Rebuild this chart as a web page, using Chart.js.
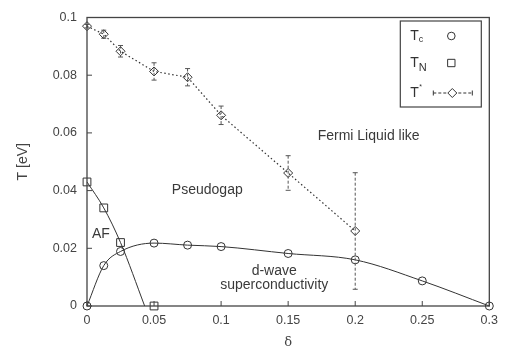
<!DOCTYPE html>
<html>
<head>
<meta charset="utf-8">
<script src="https://cdn.jsdelivr.net/npm/chart.js@4/dist/chart.umd.min.js"></script>
<style>
  html, body { margin: 0; padding: 0; background: #fff; }
  #wrap { width: 505px; height: 352px; }
</style>
</head>
<body>
<div id="wrap"><canvas id="phase"></canvas></div>
<script>
const dopingTicks = [0, 0.05, 0.1, 0.15, 0.2, 0.25, 0.3];
const dopingTickLabels = ["0", "0.05", "0.1", "0.15", "0.2", "0.25", "0.3"];
const tempTicks = [0, 0.02, 0.04, 0.06, 0.08, 0.1];
const tempTickLabels = ["0", "0.02", "0.04", "0.06", "0.08", "0.1"];

// superconducting Tc
const tcDoping = [0, 0.0125, 0.025, 0.05, 0.075, 0.1, 0.15, 0.2, 0.25, 0.3];
const tcValues = [0, 0.014, 0.0189, 0.0218, 0.0211, 0.0206, 0.0182, 0.016, 0.0087, 0];

// Neel temperature
const tnDoping = [0, 0.0125, 0.025, 0.05];
const tnValues = [0.043, 0.034, 0.022, 0];
// guide line for TN, hits zero before the last square
const tnLineDoping = [0, 0.0125, 0.025, 0.043];
const tnLineValues = [0.043, 0.034, 0.022, 0];

// pseudogap T*
const tStarDoping = [0, 0.0125, 0.025, 0.05, 0.075, 0.1, 0.15, 0.2];
const tStarValues = [0.097, 0.0942, 0.0883, 0.0813, 0.0793, 0.0661, 0.0461, 0.026];
const tStarErrors = [0.0006, 0.0014, 0.002, 0.003, 0.003, 0.0032, 0.006, 0.0202];

// region names, placed in data coordinates
const regionLabels = ["Fermi Liquid like", "Pseudogap", "AF", "d-wave", "superconductivity"];
const regionX = [0.2100, 0.0897, 0.0104, 0.1396, 0.1396];
const regionY = [0.059, 0.0401, 0.025, 0.0121, 0.0071];

const ink = "#333";
const font = "'Liberation Sans', Arial, sans-serif";

const toPoints = (xs, ys) => xs.map((v, i) => ({ x: v, y: ys[i] }));

const phasePlot = {
  id: "phasePlot",
  afterDatasetsDraw(chart) {
    const { ctx, chartArea: a, scales: { x, y } } = chart;
    ctx.save();

    // error bars on T*
    ctx.strokeStyle = "#555";
    ctx.lineWidth = 1;
    tStarDoping.forEach((d, i) => {
      const px = x.getPixelForValue(d);
      const top = y.getPixelForValue(tStarValues[i] + tStarErrors[i]);
      const bot = y.getPixelForValue(tStarValues[i] - tStarErrors[i]);
      ctx.setLineDash([3, 2]);
      ctx.beginPath();
      ctx.moveTo(px, top);
      ctx.lineTo(px, bot);
      ctx.stroke();
      ctx.setLineDash([]);
      ctx.beginPath();
      ctx.moveTo(px - 2.5, top); ctx.lineTo(px + 2.5, top);
      ctx.moveTo(px - 2.5, bot); ctx.lineTo(px + 2.5, bot);
      ctx.stroke();
    });

    // frame
    ctx.strokeStyle = "#444";
    ctx.lineWidth = 1.3;
    ctx.strokeRect(a.left, a.top, a.width, a.height);

    // inward ticks
    ctx.lineWidth = 1;
    ctx.beginPath();
    tempTicks.forEach(v => {
      const py = y.getPixelForValue(v);
      ctx.moveTo(a.left, py); ctx.lineTo(a.left + 5, py);
    });
    dopingTicks.forEach(v => {
      const px = x.getPixelForValue(v);
      ctx.moveTo(px, a.bottom); ctx.lineTo(px, a.bottom - 5);
    });
    ctx.stroke();

    // region names
    ctx.fillStyle = "#3a3a3a";
    ctx.font = "14px " + font;
    ctx.textAlign = "center";
    ctx.textBaseline = "middle";
    regionLabels.forEach((t, i) => {
      ctx.fillText(t, x.getPixelForValue(regionX[i]), y.getPixelForValue(regionY[i]));
    });

    // legend box
    const bx = a.right - 89, by = a.top + 3.5, bw = 81, bh = 86;
    ctx.fillStyle = "#fff";
    ctx.fillRect(bx, by, bw, bh);
    ctx.strokeStyle = "#444";
    ctx.lineWidth = 1.2;
    ctx.strokeRect(bx, by, bw, bh);

    ctx.fillStyle = "#333";
    ctx.strokeStyle = ink;
    ctx.lineWidth = 1;
    ctx.textAlign = "left";
    const rows = [by + 15, by + 42, by + 72];
    const tx = bx + 10, sx = bx + 51;

    ctx.font = "14px " + font;
    ctx.fillText("T", tx, rows[0]);
    ctx.fillText("T", tx, rows[1]);
    ctx.fillText("T", tx, rows[2]);
    ctx.font = "9px " + font;
    ctx.fillText("c", tx + 8.5, rows[0] + 4);
    ctx.font = "11px " + font;
    ctx.fillText("N", tx + 8.5, rows[1] + 5);
    ctx.font = "7px " + font;
    ctx.fillText("*", tx + 9, rows[2] - 6);

    ctx.fillStyle = "#fff";
    Chart.helpers.drawPoint(ctx, { pointStyle: "circle", radius: 3.8, borderWidth: 1 }, sx, rows[0]);
    Chart.helpers.drawPoint(ctx, { pointStyle: "rect", radius: 5.2, borderWidth: 1 }, sx, rows[1]);

    // T* sample: dashed bar with caps and a diamond
    ctx.setLineDash([3, 2]);
    ctx.beginPath();
    ctx.moveTo(bx + 33, rows[2]); ctx.lineTo(bx + 72, rows[2]);
    ctx.stroke();
    ctx.setLineDash([]);
    ctx.beginPath();
    ctx.moveTo(bx + 33, rows[2] - 2.5); ctx.lineTo(bx + 33, rows[2] + 2.5);
    ctx.moveTo(bx + 72, rows[2] - 2.5); ctx.lineTo(bx + 72, rows[2] + 2.5);
    ctx.stroke();
    Chart.helpers.drawPoint(ctx, { pointStyle: "rectRot", radius: 4.5, borderWidth: 1 }, bx + 52, rows[2]);

    ctx.restore();
  }
};

new Chart(document.getElementById("phase"), {
  type: "line",
  data: {
    datasets: [
      {
        label: "Tc",
        data: toPoints(tcDoping, tcValues),
        borderColor: ink,
        borderWidth: 1,
        cubicInterpolationMode: "monotone",
        pointStyle: "circle",
        pointRadius: 4,
        pointBorderColor: ink,
        pointBorderWidth: 1,
        pointBackgroundColor: "rgba(0,0,0,0)"
      },
      {
        label: "TN line",
        data: toPoints(tnLineDoping, tnLineValues),
        borderColor: ink,
        borderWidth: 1,
        cubicInterpolationMode: "monotone",
        pointRadius: 0
      },
      {
        label: "TN",
        data: toPoints(tnDoping, tnValues),
        showLine: false,
        pointStyle: "rect",
        pointRadius: 5.5,
        pointBorderColor: ink,
        pointBorderWidth: 1,
        pointBackgroundColor: "rgba(0,0,0,0)"
      },
      {
        label: "T*",
        data: toPoints(tStarDoping, tStarValues),
        borderColor: ink,
        borderWidth: 1.2,
        borderDash: [1.5, 2.5],
        tension: 0,
        pointStyle: "rectRot",
        pointRadius: 4.5,
        pointBorderColor: ink,
        pointBorderWidth: 1,
        pointBackgroundColor: "rgba(0,0,0,0)"
      }
    ]
  },
  options: {
    responsive: true,
    maintainAspectRatio: false,
    animation: false,
    clip: false,
    layout: { padding: { left: 0, right: 15, top: 9.5, bottom: 0 } },
    plugins: { legend: { display: false }, tooltip: { enabled: false } },
    scales: {
      x: {
        type: "linear",
        min: 0,
        max: 0.3,
        afterBuildTicks: s => { s.ticks = dopingTicks.map(v => ({ value: v })); },
        afterFit: s => { s.height = 46; },
        grid: { display: false, drawTicks: false },
        border: { display: false },
        ticks: {
          padding: 7,
          color: "#444",
          font: { family: font, size: 12.5 },
          callback: (v, i) => dopingTickLabels[i]
        },
        title: {
          display: true,
          text: "δ",
          color: "#444",
          font: { family: "'DejaVu Serif', serif", size: 13 },
          padding: { top: 0, bottom: 2 }
        }
      },
      y: {
        type: "linear",
        min: 0,
        max: 0.1,
        afterBuildTicks: s => { s.ticks = tempTicks.map(v => ({ value: v })); },
        afterFit: s => { s.width = 87; },
        grid: { display: false, drawTicks: false },
        border: { display: false },
        ticks: {
          padding: 10,
          color: "#444",
          font: { family: font, size: 12.5 },
          callback: (v, i) => tempTickLabels[i]
        },
        title: {
          display: true,
          text: "T [eV]",
          color: "#444",
          font: { family: font, size: 14 },
          padding: { top: 15, bottom: 0 }
        }
      }
    }
  },
  plugins: [phasePlot]
});
</script>
</body>
</html>
